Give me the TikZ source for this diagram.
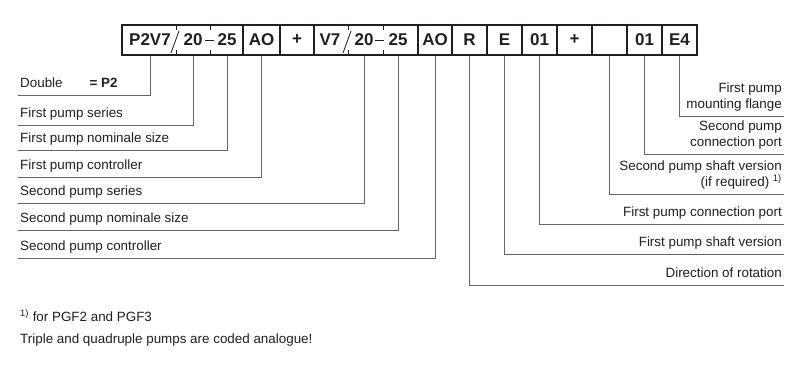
\documentclass[tikz,border=0pt]{standalone}
\usepackage{fontspec}
\setsansfont{Liberation Sans}
\definecolor{ink}{HTML}{231F20}
\definecolor{rule}{HTML}{666666}

\begin{document}
\begin{tikzpicture}[font=\sffamily,text=ink,x=1pt,y=-1pt,
  cell/.style={draw=ink,line width=1.4pt,minimum height=30pt,inner sep=0pt,
    font=\sffamily\bfseries\fontsize{17pt}{20pt}\selectfont},
  part/.style={inner sep=0pt,font=\sffamily\bfseries\fontsize{17pt}{20pt}\selectfont},
  lbl/.style={inner xsep=2pt,inner ysep=7pt,text depth=0pt,
    font=\sffamily\fontsize{13.4pt}{16pt}\selectfont},
  lead/.style={draw=rule,line width=1pt}]
  \useasboundingbox (0,0) rectangle (800,376);

  % type code cells
  \foreach \name/\x/\w/\txt in {c1/182.5/121/,cAO1/261.5/37/AO,cPlus1/297/34/+,
      c2/366/104/,cAO2/435/34/AO,cR/469.5/35/R,cE/504.5/35/E,cPa/539.5/35/01,
      cPlus2/574.5/35/+,cShaft/609.5/35/,cPb/644.5/35/01,cE4/679.5/35/E4}{
    \node[cell,minimum width=\w pt] (\name) at (\x,40) {\txt};
  }

  % first pump field
  \node[part] (p2v7) at (150,40) {P2V7};
  \node[part] (n20a) at (193,40) {20};
  \node[part] (dashA) at (209.5,40.5) {\rule{9pt}{1.7pt}};
  \node[part] (n25a) at (227,40) {25};
  \draw[ink,line width=.8pt] (171,53)--(179,31);
  % second pump field
  \node[part] (v7) at (330,40) {V7};
  \node[part] (n20b) at (364,40) {20};
  \node[part] (dashB) at (379,40.5) {\rule{9pt}{1.7pt}};
  \node[part] (n25b) at (398,40) {25};
  \draw[ink,line width=.8pt] (343,53)--(351,31);
  \foreach \x in {176,210,348,383}{
    \draw[ink,line width=1pt] (\x,25)--(\x,30) (\x,50)--(\x,55);
  }

  % left labels
  \node[lbl,anchor=south west] (lDouble) at (18,95)
    {Double\hspace{27pt}\textbf{= P2}};
  \node[lbl,anchor=south west] (lSer1) at (18,125) {First pump series};
  \node[lbl,anchor=south west] (lSize1) at (18,150) {First pump nominale size};
  \node[lbl,anchor=south west] (lCtrl1) at (18,177) {First pump controller};
  \node[lbl,anchor=south west] (lSer2) at (18,203) {Second pump series};
  \node[lbl,anchor=south west] (lSize2) at (18,230) {Second pump nominale size};
  \node[lbl,anchor=south west] (lCtrl2) at (18,258) {Second pump controller};

  % right labels
  \node[lbl,anchor=south east,align=right] (lFlange) at (784,116)
    {First pump\\mounting flange};
  \node[lbl,anchor=south east,align=right] (lPort2) at (784,154)
    {Second pump\\connection port};
  \node[lbl,anchor=south east,align=right] (lShaft2) at (784,194)
    {Second pump shaft version\\(if required) \textsuperscript{1)}};
  \node[lbl,anchor=south east] (lPort1) at (784,224) {First pump connection port};
  \node[lbl,anchor=south east] (lShaft1) at (784,254) {First pump shaft version};
  \node[lbl,anchor=south east] (lRot) at (784,285) {Direction of rotation};

  % leaders
  \draw[lead] (p2v7.south |- c1.south) |- (lDouble.south west);
  \draw[lead] (n20a.south |- c1.south) |- (lSer1.south west);
  \draw[lead] (n25a.south |- c1.south) |- (lSize1.south west);
  \draw[lead] (cAO1.south) |- (lCtrl1.south west);
  \draw[lead] (n20b.south |- c2.south) |- (lSer2.south west);
  \draw[lead] (n25b.south |- c2.south) |- (lSize2.south west);
  \draw[lead] (cAO2.south) |- (lCtrl2.south west);
  \draw[lead] (cR.south) |- (lRot.south east);
  \draw[lead] (cE.south) |- (lShaft1.south east);
  \draw[lead] (cPa.south) |- (lPort1.south east);
  \draw[lead] (cShaft.south) |- (lShaft2.south east);
  \draw[lead] (cPb.south) |- (lPort2.south east);
  \draw[lead] (cE4.south) |- (lFlange.south east);

  % notes
  \node[lbl,anchor=base west,inner ysep=0pt] (fn1) at (18,321.5)
    {\textsuperscript{1)} for PGF2 and PGF3};
  \node[lbl,anchor=base west,inner ysep=0pt] (fn2) at (18,343.5)
    {Triple and quadruple pumps are coded analogue!};
\end{tikzpicture}
\end{document}
